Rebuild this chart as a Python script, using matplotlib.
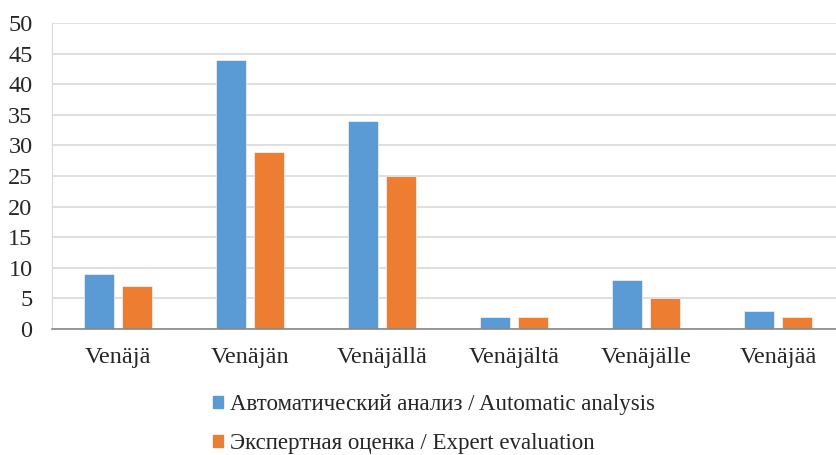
import numpy as np
import matplotlib.pyplot as plt
from matplotlib.patches import Patch

plt.rcParams['font.family'] = ['Liberation Serif', 'DejaVu Serif']

cases = ['Venäjä', 'Venäjän', 'Venäjällä', 'Venäjältä', 'Venäjälle', 'Venäjää']
auto_vals = [9, 44, 34, 2, 8, 3]
expert_vals = [7, 29, 25, 2, 5, 2]
labels = ['Автоматический анализ / Automatic analysis',
          'Экспертная оценка / Expert evaluation']

blue = '#5B9BD5'
orange = '#ED7D31'

fig = plt.figure(figsize=(8.37, 4.55), dpi=100)
ax = fig.add_axes([52/837, 126/455, 785/837, 306/455])

x = np.arange(len(cases))
w = 0.227
ax.bar(x - 0.144, auto_vals, w, color=blue, edgecolor='white', linewidth=0.4, zorder=3)
ax.bar(x + 0.144, expert_vals, w, color=orange, edgecolor='white', linewidth=0.4, zorder=3)

ax.set_xlim(-0.5, 5.447)
ax.set_ylim(0, 50)
ax.set_yticks(range(0, 51, 5))
ax.set_xticks(x)
ax.set_xticklabels(cases)
ax.tick_params(axis='both', length=0, labelsize=17.5, colors='#262626')
ax.tick_params(axis='y', pad=14)
ax.tick_params(axis='x', pad=13)
ax.grid(axis='y', color='#d9d9d9', linewidth=1.2, zorder=0)

for s in ['top', 'right']:
    ax.spines[s].set_visible(False)
ax.spines['left'].set_color('#d9d9d9')
ax.spines['bottom'].set_color('#888888')
ax.spines['bottom'].set_linewidth(1.2)
ax.spines['bottom'].set_zorder(4)

handles = [Patch(color=blue), Patch(color=orange)]
fig.legend(handles, labels, loc='upper left', bbox_to_anchor=(213/837, 1 - 394/455),
           frameon=False, fontsize=16.5, handlelength=0.45, handleheight=0.45,
           handletextpad=0.3, labelspacing=0.78, borderpad=0, borderaxespad=0,
           labelcolor='#262626')

fig.savefig('out.png', dpi=100)
